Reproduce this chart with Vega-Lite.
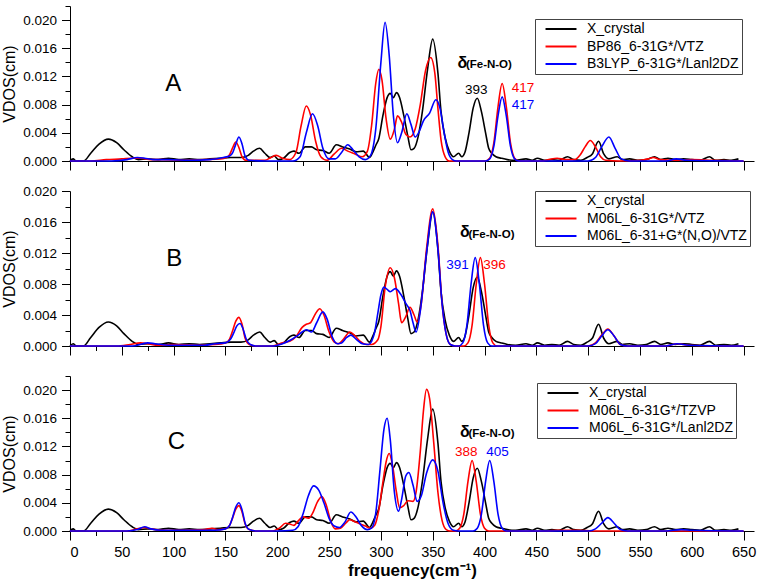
{
"$schema": "https://vega.github.io/schema/vega-lite/v6.json",
"padding": {"left": 1, "top": 5, "right": 5, "bottom": 5},
"spacing": 30,
"bounds": "flush",
"config": {
  "font": "Liberation Sans",
  "view": {"stroke": null},
  "axis": {"grid": false, "domainColor": "#000", "tickColor": "#000", "labelColor": "#000", "titleColor": "#000", "labelFont": "Liberation Sans", "titleFont": "Liberation Sans", "domainWidth": 1, "tickWidth": 1},
  "legend": {"orient": "none", "symbolType": "M-2.58,0H2.58", "symbolSize": 144, "symbolStrokeWidth": 2, "labelFontSize": 14, "labelFont": "Liberation Sans", "labelColor": "#000", "padding": 3, "rowPadding": 3.5, "symbolOffset": 16, "labelOffset": 19, "strokeColor": "#444", "fillColor": "#fff", "labelLimit": 0}
},
"resolve": {"scale": {"color": "independent"}, "legend": {"color": "independent"}},
"datasets": {
  "crystal": [{"f":0,"v":0},{"f":3,"v":0.0003},{"f":6,"v":0},{"f":13,"v":0},{"f":20,"v":0.0011},{"f":28,"v":0.0024},{"f":37,"v":0.0031},{"f":45,"v":0.0026},{"f":52,"v":0.0016},{"f":60,"v":0.0006},{"f":66,"v":0.0002},{"f":75,"v":0.0003},{"f":85,"v":0.0002},{"f":95,"v":0.0004},{"f":105,"v":0.0002},{"f":115,"v":0.0003},{"f":125,"v":0.0002},{"f":135,"v":0.0003},{"f":145,"v":0.0004},{"f":155,"v":0.0005},{"f":165,"v":0.0005},{"f":172,"v":0.0008},{"f":177,"v":0.0014},{"f":183,"v":0.0018},{"f":188,"v":0.0011},{"f":193,"v":0.0005},{"f":197,"v":0.0007},{"f":201,"v":0.0002},{"f":206,"v":0.0004},{"f":212,"v":0.0012},{"f":216,"v":0.0014},{"f":221,"v":0.0011},{"f":227,"v":0.0020},{"f":233,"v":0.0020},{"f":238,"v":0.0016},{"f":244,"v":0.0015},{"f":250,"v":0.0011},{"f":257,"v":0.0023},{"f":263,"v":0.0020},{"f":270,"v":0.0017},{"f":276,"v":0.0013},{"f":283,"v":0.0014},{"f":289,"v":0.0005},{"f":292,"v":0.0012},{"f":295,"v":0.0022},{"f":298,"v":0.0032},{"f":302,"v":0.0065},{"f":306,"v":0.0090},{"f":309,"v":0.0096},{"f":312,"v":0.0090},{"f":315,"v":0.0097},{"f":318,"v":0.0090},{"f":322,"v":0.0065},{"f":326,"v":0.0035},{"f":329,"v":0.0016},{"f":332,"v":0.0018},{"f":336,"v":0.0035},{"f":340,"v":0.0070},{"f":345,"v":0.0130},{"f":350,"v":0.0173},{"f":355,"v":0.0125},{"f":358,"v":0.0070},{"f":362,"v":0.0033},{"f":366,"v":0.0014},{"f":370,"v":0.0006},{"f":375,"v":0.0011},{"f":378,"v":0.0006},{"f":381,"v":0.0012},{"f":385,"v":0.0040},{"f":389,"v":0.0075},{"f":393,"v":0.0089},{"f":397,"v":0.0070},{"f":401,"v":0.0040},{"f":404,"v":0.0018},{"f":407,"v":0.0011},{"f":411,"v":0.0006},{"f":416,"v":0.0004},{"f":422,"v":0.0002},{"f":430,"v":0.0001},{"f":440,"v":0.0003},{"f":446,"v":0.0001},{"f":451,"v":0.0004},{"f":458,"v":0.0001},{"f":465,"v":0.0002},{"f":472,"v":0.0001},{"f":480,"v":0.0006},{"f":486,"v":0.0002},{"f":493,"v":0.0001},{"f":499,"v":0.0005},{"f":504,"v":0.0010},{"f":510,"v":0.0028},{"f":515,"v":0.0010},{"f":520,"v":0.0003},{"f":528,"v":0.0006},{"f":533,"v":0.0002},{"f":540,"v":0.0003},{"f":548,"v":0.0001},{"f":556,"v":0.0002},{"f":564,"v":0.0006},{"f":570,"v":0.0002},{"f":577,"v":0.0004},{"f":584,"v":0.0002},{"f":592,"v":0.0003},{"f":600,"v":0.0002},{"f":608,"v":0.0001},{"f":617,"v":0.0006},{"f":623,"v":0.0001},{"f":631,"v":0.0002},{"f":638,"v":0.0001},{"f":645,"v":0.0003}],
  "A_red": [{"f":0,"v":0},{"f":20,"v":0},{"f":35,"v":0.0002},{"f":50,"v":0.0003},{"f":60,"v":0.0004},{"f":68,"v":0.0004},{"f":78,"v":0.0002},{"f":90,"v":0.0002},{"f":110,"v":0.0001},{"f":130,"v":0.0002},{"f":145,"v":0.0003},{"f":151,"v":0.0005},{"f":154,"v":0.0009},{"f":157,"v":0.0019},{"f":160,"v":0.0027},{"f":163,"v":0.0019},{"f":166,"v":0.0006},{"f":170,"v":0.0001},{"f":188,"v":0.0001},{"f":194,"v":0.0005},{"f":199,"v":0.0008},{"f":205,"v":0.0004},{"f":212,"v":0.0002},{"f":218,"v":0.0012},{"f":223,"v":0.0050},{"f":228,"v":0.0078},{"f":232,"v":0.0066},{"f":237,"v":0.0028},{"f":242,"v":0.0006},{"f":248,"v":0.0001},{"f":255,"v":0.0010},{"f":262,"v":0.0018},{"f":268,"v":0.0014},{"f":275,"v":0.0010},{"f":282,"v":0.0006},{"f":287,"v":0.0014},{"f":291,"v":0.0050},{"f":295,"v":0.0110},{"f":298,"v":0.0130},{"f":301,"v":0.0115},{"f":305,"v":0.0060},{"f":309,"v":0.0031},{"f":313,"v":0.0045},{"f":316,"v":0.0064},{"f":320,"v":0.0055},{"f":324,"v":0.0038},{"f":328,"v":0.0034},{"f":333,"v":0.0045},{"f":338,"v":0.0080},{"f":343,"v":0.0128},{"f":348,"v":0.0147},{"f":352,"v":0.0125},{"f":355,"v":0.0075},{"f":358,"v":0.0030},{"f":362,"v":0.0006},{"f":366,"v":0},{"f":400,"v":0},{"f":405,"v":0.0004},{"f":409,"v":0.0026},{"f":413,"v":0.0077},{"f":417,"v":0.0110},{"f":421,"v":0.0077},{"f":425,"v":0.0026},{"f":429,"v":0.0004},{"f":433,"v":0},{"f":455,"v":0},{"f":462,"v":0.0002},{"f":470,"v":0.0004},{"f":478,"v":0.0002},{"f":487,"v":0.0002},{"f":492,"v":0.0008},{"f":497,"v":0.0020},{"f":502,"v":0.0029},{"f":507,"v":0.0020},{"f":512,"v":0.0006},{"f":517,"v":0.0001},{"f":530,"v":0},{"f":550,"v":0.0001},{"f":558,"v":0.0003},{"f":563,"v":0.0005},{"f":569,"v":0.0002},{"f":585,"v":0.0001},{"f":600,"v":0.0002},{"f":620,"v":0.0001},{"f":650,"v":0}],
  "A_blue": [{"f":0,"v":0},{"f":40,"v":0},{"f":55,"v":0.0002},{"f":65,"v":0.0005},{"f":72,"v":0.0004},{"f":80,"v":0.0002},{"f":95,"v":0.0002},{"f":115,"v":0.0001},{"f":135,"v":0.0002},{"f":148,"v":0.0005},{"f":154,"v":0.0007},{"f":157,"v":0.0012},{"f":160,"v":0.0024},{"f":163,"v":0.0034},{"f":166,"v":0.0024},{"f":169,"v":0.0007},{"f":173,"v":0.0001},{"f":190,"v":0},{"f":215,"v":0},{"f":222,"v":0.0006},{"f":228,"v":0.0040},{"f":234,"v":0.0067},{"f":239,"v":0.0050},{"f":244,"v":0.0018},{"f":250,"v":0.0003},{"f":256,"v":0.0003},{"f":262,"v":0.0012},{"f":268,"v":0.0023},{"f":273,"v":0.0016},{"f":279,"v":0.0006},{"f":285,"v":0.0002},{"f":290,"v":0.0008},{"f":295,"v":0.0045},{"f":300,"v":0.0140},{"f":304,"v":0.0197},{"f":308,"v":0.0150},{"f":312,"v":0.0065},{"f":316,"v":0.0026},{"f":320,"v":0.0040},{"f":325,"v":0.0067},{"f":329,"v":0.0052},{"f":333,"v":0.0034},{"f":337,"v":0.0042},{"f":341,"v":0.0057},{"f":347,"v":0.0068},{"f":353,"v":0.0087},{"f":357,"v":0.0075},{"f":361,"v":0.0040},{"f":365,"v":0.0012},{"f":369,"v":0.0002},{"f":373,"v":0},{"f":401,"v":0},{"f":405,"v":0.0003},{"f":409,"v":0.0021},{"f":413,"v":0.0064},{"f":417,"v":0.0091},{"f":421,"v":0.0064},{"f":425,"v":0.0021},{"f":429,"v":0.0003},{"f":433,"v":0},{"f":500,"v":0},{"f":507,"v":0.0005},{"f":513,"v":0.0020},{"f":520,"v":0.0034},{"f":526,"v":0.0018},{"f":532,"v":0.0003},{"f":540,"v":0},{"f":575,"v":0},{"f":585,"v":0.0003},{"f":595,"v":0.0001},{"f":650,"v":0}],
  "B_red": [{"f":0,"v":0},{"f":45,"v":0},{"f":58,"v":0.0002},{"f":68,"v":0.0004},{"f":75,"v":0.0003},{"f":85,"v":0.0001},{"f":100,"v":0.0002},{"f":120,"v":0.0001},{"f":140,"v":0.0002},{"f":150,"v":0.0004},{"f":154,"v":0.0009},{"f":157,"v":0.0020},{"f":160,"v":0.0032},{"f":163,"v":0.0037},{"f":166,"v":0.0028},{"f":169,"v":0.0010},{"f":173,"v":0.0002},{"f":180,"v":0},{"f":195,"v":0},{"f":205,"v":0.0004},{"f":212,"v":0.0006},{"f":218,"v":0.0012},{"f":224,"v":0.0024},{"f":228,"v":0.0028},{"f":232,"v":0.0030},{"f":237,"v":0.0042},{"f":241,"v":0.0048},{"f":245,"v":0.0040},{"f":250,"v":0.0018},{"f":255,"v":0.0005},{"f":259,"v":0.0003},{"f":264,"v":0.0009},{"f":270,"v":0.0018},{"f":275,"v":0.0013},{"f":280,"v":0.0006},{"f":286,"v":0.0002},{"f":291,"v":0.0002},{"f":297,"v":0.0008},{"f":300,"v":0.0025},{"f":304,"v":0.0075},{"f":309,"v":0.0101},{"f":313,"v":0.0088},{"f":317,"v":0.0055},{"f":320,"v":0.0030},{"f":324,"v":0.0038},{"f":328,"v":0.0050},{"f":332,"v":0.0040},{"f":335,"v":0.0031},{"f":339,"v":0.0055},{"f":344,"v":0.0125},{"f":350,"v":0.0177},{"f":355,"v":0.0130},{"f":359,"v":0.0055},{"f":363,"v":0.0015},{"f":367,"v":0.0002},{"f":372,"v":0},{"f":380,"v":0},{"f":384,"v":0.0004},{"f":388,"v":0.0027},{"f":392,"v":0.0080},{"f":396,"v":0.0114},{"f":400,"v":0.0080},{"f":404,"v":0.0027},{"f":408,"v":0.0004},{"f":412,"v":0},{"f":500,"v":0},{"f":507,"v":0.0004},{"f":513,"v":0.0014},{"f":519,"v":0.0022},{"f":525,"v":0.0013},{"f":531,"v":0.0002},{"f":538,"v":0},{"f":575,"v":0},{"f":586,"v":0.0003},{"f":597,"v":0.0001},{"f":650,"v":0}],
  "B_blue": [{"f":0,"v":0},{"f":60,"v":0},{"f":75,"v":0.0004},{"f":82,"v":0.0003},{"f":95,"v":0.0001},{"f":110,"v":0.0001},{"f":130,"v":0.0001},{"f":140,"v":0.0003},{"f":150,"v":0.0004},{"f":155,"v":0.0009},{"f":158,"v":0.0017},{"f":161,"v":0.0026},{"f":164,"v":0.0029},{"f":167,"v":0.0022},{"f":170,"v":0.0009},{"f":174,"v":0.0002},{"f":180,"v":0},{"f":195,"v":0},{"f":205,"v":0.0003},{"f":212,"v":0.0007},{"f":218,"v":0.0012},{"f":224,"v":0.0018},{"f":228,"v":0.0021},{"f":233,"v":0.0018},{"f":238,"v":0.0030},{"f":244,"v":0.0044},{"f":248,"v":0.0035},{"f":253,"v":0.0012},{"f":258,"v":0.0003},{"f":262,"v":0.0004},{"f":267,"v":0.0011},{"f":271,"v":0.0014},{"f":276,"v":0.0009},{"f":282,"v":0.0003},{"f":288,"v":0.0002},{"f":291,"v":0.0006},{"f":294,"v":0.0018},{"f":297,"v":0.0042},{"f":300,"v":0.0066},{"f":303,"v":0.0076},{"f":306,"v":0.0073},{"f":309,"v":0.0070},{"f":314,"v":0.0074},{"f":319,"v":0.0067},{"f":324,"v":0.0055},{"f":328,"v":0.0046},{"f":331,"v":0.0030},{"f":334,"v":0.0018},{"f":338,"v":0.0045},{"f":344,"v":0.0120},{"f":350,"v":0.0173},{"f":355,"v":0.0125},{"f":359,"v":0.0055},{"f":363,"v":0.0015},{"f":367,"v":0.0002},{"f":372,"v":0},{"f":375,"v":0},{"f":379,"v":0.0004},{"f":383,"v":0.0027},{"f":387,"v":0.0080},{"f":391,"v":0.0114},{"f":395,"v":0.0080},{"f":399,"v":0.0027},{"f":403,"v":0.0004},{"f":407,"v":0},{"f":500,"v":0},{"f":507,"v":0.0003},{"f":513,"v":0.0013},{"f":519,"v":0.0021},{"f":525,"v":0.0013},{"f":531,"v":0.0002},{"f":538,"v":0},{"f":575,"v":0},{"f":586,"v":0.0003},{"f":597,"v":0.0001},{"f":650,"v":0}],
  "C_red": [{"f":0,"v":0},{"f":55,"v":0},{"f":65,"v":0.0003},{"f":72,"v":0.0005},{"f":78,"v":0.0003},{"f":90,"v":0.0001},{"f":110,"v":0.0001},{"f":130,"v":0.0002},{"f":137,"v":0.0004},{"f":143,"v":0.0002},{"f":150,"v":0.0003},{"f":154,"v":0.0008},{"f":157,"v":0.0019},{"f":160,"v":0.0031},{"f":163,"v":0.0036},{"f":166,"v":0.0027},{"f":169,"v":0.0010},{"f":173,"v":0.0002},{"f":180,"v":0},{"f":195,"v":0},{"f":202,"v":0.0004},{"f":208,"v":0.0011},{"f":212,"v":0.0010},{"f":216,"v":0.0008},{"f":220,"v":0.0014},{"f":225,"v":0.0020},{"f":230,"v":0.0018},{"f":234,"v":0.0025},{"f":239,"v":0.0042},{"f":243,"v":0.0049},{"f":247,"v":0.0038},{"f":252,"v":0.0012},{"f":256,"v":0.0003},{"f":261,"v":0.0004},{"f":266,"v":0.0011},{"f":270,"v":0.0016},{"f":275,"v":0.0013},{"f":280,"v":0.0010},{"f":285,"v":0.0007},{"f":290,"v":0.0004},{"f":294,"v":0.0008},{"f":298,"v":0.0030},{"f":302,"v":0.0070},{"f":305,"v":0.0098},{"f":308,"v":0.0110},{"f":311,"v":0.0095},{"f":315,"v":0.0055},{"f":318,"v":0.0033},{"f":322,"v":0.0036},{"f":326,"v":0.0043},{"f":331,"v":0.0042},{"f":334,"v":0.0056},{"f":338,"v":0.0113},{"f":341,"v":0.0170},{"f":344,"v":0.0201},{"f":347,"v":0.0188},{"f":351,"v":0.0125},{"f":355,"v":0.0055},{"f":359,"v":0.0015},{"f":363,"v":0.0002},{"f":367,"v":0},{"f":372,"v":0},{"f":376,"v":0.0004},{"f":380,"v":0.0024},{"f":384,"v":0.0070},{"f":388,"v":0.0100},{"f":392,"v":0.0070},{"f":396,"v":0.0024},{"f":400,"v":0.0004},{"f":404,"v":0},{"f":460,"v":0},{"f":470,"v":0.0001},{"f":490,"v":0.0001},{"f":505,"v":0},{"f":650,"v":0}],
  "C_blue": [{"f":0,"v":0},{"f":55,"v":0},{"f":65,"v":0.0002},{"f":72,"v":0.0006},{"f":78,"v":0.0003},{"f":88,"v":0.0001},{"f":110,"v":0.0001},{"f":140,"v":0.0001},{"f":150,"v":0.0003},{"f":154,"v":0.0008},{"f":157,"v":0.0020},{"f":160,"v":0.0034},{"f":163,"v":0.0040},{"f":166,"v":0.0030},{"f":169,"v":0.0011},{"f":173,"v":0.0002},{"f":180,"v":0},{"f":200,"v":0},{"f":215,"v":0.0001},{"f":220,"v":0.0006},{"f":225,"v":0.0025},{"f":230,"v":0.0050},{"f":235,"v":0.0064},{"f":240,"v":0.0058},{"f":245,"v":0.0040},{"f":250,"v":0.0018},{"f":255,"v":0.0007},{"f":260,"v":0.0005},{"f":265,"v":0.0012},{"f":271,"v":0.0027},{"f":276,"v":0.0020},{"f":281,"v":0.0008},{"f":287,"v":0.0002},{"f":291,"v":0.0004},{"f":295,"v":0.0025},{"f":299,"v":0.0085},{"f":303,"v":0.0145},{"f":306,"v":0.0160},{"f":309,"v":0.0130},{"f":313,"v":0.0055},{"f":317,"v":0.0028},{"f":320,"v":0.0045},{"f":324,"v":0.0078},{"f":327,"v":0.0083},{"f":331,"v":0.0065},{"f":335,"v":0.0042},{"f":339,"v":0.0050},{"f":344,"v":0.0082},{"f":350,"v":0.0101},{"f":355,"v":0.0085},{"f":360,"v":0.0040},{"f":365,"v":0.0010},{"f":370,"v":0.0001},{"f":375,"v":0},{"f":389,"v":0},{"f":393,"v":0.0004},{"f":397,"v":0.0024},{"f":401,"v":0.0070},{"f":405,"v":0.0100},{"f":409,"v":0.0070},{"f":413,"v":0.0024},{"f":417,"v":0.0004},{"f":421,"v":0},{"f":500,"v":0},{"f":507,"v":0.0003},{"f":513,"v":0.0011},{"f":519,"v":0.0019},{"f":525,"v":0.0011},{"f":531,"v":0.0002},{"f":538,"v":0},{"f":575,"v":0},{"f":590,"v":0.0002},{"f":600,"v":0.0001},{"f":650,"v":0}]
},
"vconcat": [
{
  "width": 684, "height": 155,
  "resolve": {"axis": {"x": "independent", "y": "independent"}},
  "layer": [
    {"data": {"name": "crystal"}, "mark": {"type": "line", "interpolate": "monotone", "strokeWidth": 1.6},
     "encoding": {
       "x": {"field": "f", "type": "quantitative", "scale": {"domain": [0, 660], "nice": false, "zero": false}, "axis": {"orient": "bottom", "values": [0,50,100,150,200,250,300,350,400,450,500,550,600,650], "labels": false, "tickSize": 9, "title": null}},
       "y": {"field": "v", "type": "quantitative", "scale": {"domain": [0, 0.022], "nice": false}, "axis": {"orient": "left", "values": [0,0.004,0.008,0.012,0.016,0.020], "format": ".3f", "tickSize": 8.5, "labelFontSize": 13.5, "labelPadding": 5, "title": "VDOS(cm)", "titleFontSize": 16, "titleFontWeight": "normal", "titlePadding": 5}},
       "color": {"datum": "X_crystal", "type": "nominal", "scale": {"domain": ["X_crystal", "BP86_6-31G*/VTZ", "B3LYP_6-31G*/Lanl2DZ"], "range": ["#000000", "#ff0000", "#0000ff"]}, "legend": {"title": null, "legendX": 465, "legendY": 13}}
     }},
    {"data": {"name": "A_red"}, "mark": {"type": "line", "interpolate": "monotone", "strokeWidth": 1.6},
     "encoding": {
       "x": {"field": "f", "type": "quantitative", "axis": {"orient": "bottom", "values": [25,75,125,175,225,275,325,375,425,475,525,575,625], "labels": false, "domain": false, "tickSize": 4.5, "title": null}},
       "y": {"field": "v", "type": "quantitative", "axis": {"orient": "left", "values": [0.002,0.006,0.010,0.014,0.018,0.022], "labels": false, "domain": false, "tickSize": 5, "title": null}},
       "color": {"datum": "BP86_6-31G*/VTZ", "type": "nominal"}
     }},
    {"data": {"name": "A_blue"}, "mark": {"type": "line", "interpolate": "monotone", "strokeWidth": 1.6},
     "encoding": {
       "x": {"field": "f", "type": "quantitative", "axis": null},
       "y": {"field": "v", "type": "quantitative", "axis": null},
       "color": {"datum": "B3LYP_6-31G*/Lanl2DZ", "type": "nominal"}
     }},
    {"data": {"values": [{"f": 99.7, "v": 0.0110, "t": "A"}]}, "mark": {"type": "text", "fontSize": 24, "color": "#000", "baseline": "middle", "align": "center"},
     "encoding": {"x": {"field": "f", "type": "quantitative", "axis": null}, "y": {"field": "v", "type": "quantitative", "axis": null}, "text": {"field": "t"}}},
    {"data": {"values": [{"f": 378.5, "v": 0.0139, "t": "δ"}]}, "mark": {"type": "text", "fontSize": 16, "fontWeight": "bold", "color": "#000", "baseline": "middle", "align": "center"},
     "encoding": {"x": {"field": "f", "type": "quantitative", "axis": null}, "y": {"field": "v", "type": "quantitative", "axis": null}, "text": {"field": "t"}}},
    {"data": {"values": [{"f": 382, "v": 0.01364, "t": "(Fe-N-O)"}]}, "mark": {"type": "text", "fontSize": 11.5, "fontWeight": "bold", "color": "#000", "baseline": "middle", "align": "left"},
     "encoding": {"x": {"field": "f", "type": "quantitative", "axis": null}, "y": {"field": "v", "type": "quantitative", "axis": null}, "text": {"field": "t"}}},
    {"data": {"values": [{"f": 392, "v": 0.0101, "t": "393"}]}, "mark": {"type": "text", "fontSize": 13.5, "color": "#000", "baseline": "middle", "align": "center"},
     "encoding": {"x": {"field": "f", "type": "quantitative", "axis": null}, "y": {"field": "v", "type": "quantitative", "axis": null}, "text": {"field": "t"}}},
    {"data": {"values": [{"f": 437, "v": 0.0104, "t": "417"}]}, "mark": {"type": "text", "fontSize": 13.5, "color": "#ff0000", "baseline": "middle", "align": "center"},
     "encoding": {"x": {"field": "f", "type": "quantitative", "axis": null}, "y": {"field": "v", "type": "quantitative", "axis": null}, "text": {"field": "t"}}},
    {"data": {"values": [{"f": 437, "v": 0.0079, "t": "417"}]}, "mark": {"type": "text", "fontSize": 13.5, "color": "#0000ff", "baseline": "middle", "align": "center"},
     "encoding": {"x": {"field": "f", "type": "quantitative", "axis": null}, "y": {"field": "v", "type": "quantitative", "axis": null}, "text": {"field": "t"}}}
  ]
},
{
  "width": 684, "height": 155,
  "resolve": {"axis": {"x": "independent", "y": "independent"}},
  "layer": [
    {"data": {"name": "crystal"}, "mark": {"type": "line", "interpolate": "monotone", "strokeWidth": 1.6},
     "encoding": {
       "x": {"field": "f", "type": "quantitative", "scale": {"domain": [0, 660], "nice": false, "zero": false}, "axis": {"orient": "bottom", "values": [0,50,100,150,200,250,300,350,400,450,500,550,600,650], "labels": false, "tickSize": 9, "title": null}},
       "y": {"field": "v", "type": "quantitative", "scale": {"domain": [0, 0.020], "nice": false}, "axis": {"orient": "left", "values": [0,0.004,0.008,0.012,0.016,0.020], "format": ".3f", "tickSize": 8.5, "labelFontSize": 13.5, "labelPadding": 5, "title": "VDOS(cm)", "titleFontSize": 16, "titleFontWeight": "normal", "titlePadding": 5}},
       "color": {"datum": "X_crystal", "type": "nominal", "scale": {"domain": ["X_crystal", "M06L_6-31G*/VTZ", "M06L_6-31+G*(N,O)/VTZ"], "range": ["#000000", "#ff0000", "#0000ff"]}, "legend": {"title": null, "legendX": 465, "legendY": 0}}
     }},
    {"data": {"name": "B_red"}, "mark": {"type": "line", "interpolate": "monotone", "strokeWidth": 1.6},
     "encoding": {
       "x": {"field": "f", "type": "quantitative", "axis": {"orient": "bottom", "values": [25,75,125,175,225,275,325,375,425,475,525,575,625], "labels": false, "domain": false, "tickSize": 4.5, "title": null}},
       "y": {"field": "v", "type": "quantitative", "axis": {"orient": "left", "values": [0.002,0.006,0.010,0.014,0.018], "labels": false, "domain": false, "tickSize": 5, "title": null}},
       "color": {"datum": "M06L_6-31G*/VTZ", "type": "nominal"}
     }},
    {"data": {"name": "B_blue"}, "mark": {"type": "line", "interpolate": "monotone", "strokeWidth": 1.6},
     "encoding": {
       "x": {"field": "f", "type": "quantitative", "axis": null},
       "y": {"field": "v", "type": "quantitative", "axis": null},
       "color": {"datum": "M06L_6-31+G*(N,O)/VTZ", "type": "nominal"}
     }},
    {"data": {"values": [{"f": 100.5, "v": 0.01118, "t": "B"}]}, "mark": {"type": "text", "fontSize": 24, "color": "#000", "baseline": "middle", "align": "center"},
     "encoding": {"x": {"field": "f", "type": "quantitative", "axis": null}, "y": {"field": "v", "type": "quantitative", "axis": null}, "text": {"field": "t"}}},
    {"data": {"values": [{"f": 381, "v": 0.0147, "t": "δ"}]}, "mark": {"type": "text", "fontSize": 16, "fontWeight": "bold", "color": "#000", "baseline": "middle", "align": "center"},
     "encoding": {"x": {"field": "f", "type": "quantitative", "axis": null}, "y": {"field": "v", "type": "quantitative", "axis": null}, "text": {"field": "t"}}},
    {"data": {"values": [{"f": 384.5, "v": 0.01428, "t": "(Fe-N-O)"}]}, "mark": {"type": "text", "fontSize": 11.5, "fontWeight": "bold", "color": "#000", "baseline": "middle", "align": "left"},
     "encoding": {"x": {"field": "f", "type": "quantitative", "axis": null}, "y": {"field": "v", "type": "quantitative", "axis": null}, "text": {"field": "t"}}},
    {"data": {"values": [{"f": 374, "v": 0.0104, "t": "391"}]}, "mark": {"type": "text", "fontSize": 13.5, "color": "#0000ff", "baseline": "middle", "align": "center"},
     "encoding": {"x": {"field": "f", "type": "quantitative", "axis": null}, "y": {"field": "v", "type": "quantitative", "axis": null}, "text": {"field": "t"}}},
    {"data": {"values": [{"f": 409.6, "v": 0.0104, "t": "396"}]}, "mark": {"type": "text", "fontSize": 13.5, "color": "#ff0000", "baseline": "middle", "align": "center"},
     "encoding": {"x": {"field": "f", "type": "quantitative", "axis": null}, "y": {"field": "v", "type": "quantitative", "axis": null}, "text": {"field": "t"}}}
  ]
},
{
  "width": 684, "height": 155,
  "resolve": {"axis": {"x": "independent", "y": "independent"}},
  "layer": [
    {"data": {"name": "crystal"}, "mark": {"type": "line", "interpolate": "monotone", "strokeWidth": 1.6},
     "encoding": {
       "x": {"field": "f", "type": "quantitative", "scale": {"domain": [0, 660], "nice": false, "zero": false}, "axis": {"orient": "bottom", "values": [0,50,100,150,200,250,300,350,400,450,500,550,600,650], "tickSize": 9, "labelFontSize": 14.5, "labelPadding": 5, "title": "frequency(cm⁻¹)", "titleFontSize": 17, "titleFontWeight": "bold", "titlePadding": 4}},
       "y": {"field": "v", "type": "quantitative", "scale": {"domain": [0, 0.022], "nice": false}, "axis": {"orient": "left", "values": [0,0.004,0.008,0.012,0.016,0.020], "format": ".3f", "tickSize": 8.5, "labelFontSize": 13.5, "labelPadding": 5, "title": "VDOS(cm)", "titleFontSize": 16, "titleFontWeight": "normal", "titlePadding": 5}},
       "color": {"datum": "X_crystal", "type": "nominal", "scale": {"domain": ["X_crystal", "M06L_6-31G*/TZVP", "M06L_6-31G*/Lanl2DZ"], "range": ["#000000", "#ff0000", "#0000ff"]}, "legend": {"title": null, "legendX": 467, "legendY": 7}}
     }},
    {"data": {"name": "C_red"}, "mark": {"type": "line", "interpolate": "monotone", "strokeWidth": 1.6},
     "encoding": {
       "x": {"field": "f", "type": "quantitative", "axis": {"orient": "bottom", "values": [25,75,125,175,225,275,325,375,425,475,525,575,625], "labels": false, "domain": false, "tickSize": 4.5, "title": null}},
       "y": {"field": "v", "type": "quantitative", "axis": {"orient": "left", "values": [0.002,0.006,0.010,0.014,0.018,0.022], "labels": false, "domain": false, "tickSize": 5, "title": null}},
       "color": {"datum": "M06L_6-31G*/TZVP", "type": "nominal"}
     }},
    {"data": {"name": "C_blue"}, "mark": {"type": "line", "interpolate": "monotone", "strokeWidth": 1.6},
     "encoding": {
       "x": {"field": "f", "type": "quantitative", "axis": null},
       "y": {"field": "v", "type": "quantitative", "axis": null},
       "color": {"datum": "M06L_6-31G*/Lanl2DZ", "type": "nominal"}
     }},
    {"data": {"values": [{"f": 102.6, "v": 0.01267, "t": "C"}]}, "mark": {"type": "text", "fontSize": 24, "color": "#000", "baseline": "middle", "align": "center"},
     "encoding": {"x": {"field": "f", "type": "quantitative", "axis": null}, "y": {"field": "v", "type": "quantitative", "axis": null}, "text": {"field": "t"}}},
    {"data": {"values": [{"f": 381, "v": 0.0140, "t": "δ"}]}, "mark": {"type": "text", "fontSize": 16, "fontWeight": "bold", "color": "#000", "baseline": "middle", "align": "center"},
     "encoding": {"x": {"field": "f", "type": "quantitative", "axis": null}, "y": {"field": "v", "type": "quantitative", "axis": null}, "text": {"field": "t"}}},
    {"data": {"values": [{"f": 384.5, "v": 0.01373, "t": "(Fe-N-O)"}]}, "mark": {"type": "text", "fontSize": 11.5, "fontWeight": "bold", "color": "#000", "baseline": "middle", "align": "left"},
     "encoding": {"x": {"field": "f", "type": "quantitative", "axis": null}, "y": {"field": "v", "type": "quantitative", "axis": null}, "text": {"field": "t"}}},
    {"data": {"values": [{"f": 382.3, "v": 0.01115, "t": "388"}]}, "mark": {"type": "text", "fontSize": 13.5, "color": "#ff0000", "baseline": "middle", "align": "center"},
     "encoding": {"x": {"field": "f", "type": "quantitative", "axis": null}, "y": {"field": "v", "type": "quantitative", "axis": null}, "text": {"field": "t"}}},
    {"data": {"values": [{"f": 412.5, "v": 0.01115, "t": "405"}]}, "mark": {"type": "text", "fontSize": 13.5, "color": "#0000ff", "baseline": "middle", "align": "center"},
     "encoding": {"x": {"field": "f", "type": "quantitative", "axis": null}, "y": {"field": "v", "type": "quantitative", "axis": null}, "text": {"field": "t"}}}
  ]
}
]
}
